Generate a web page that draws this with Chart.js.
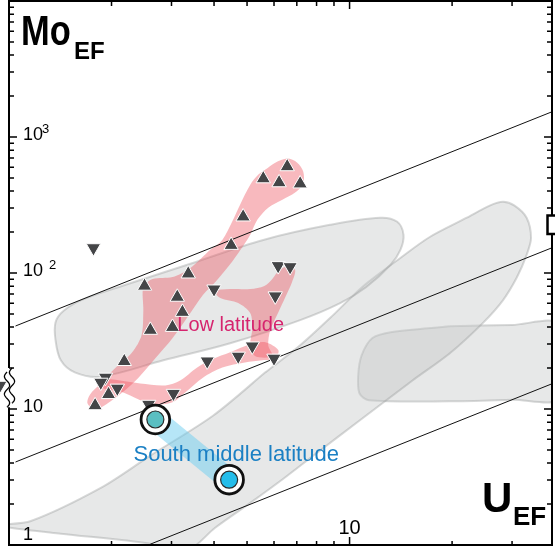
<!DOCTYPE html>
<html><head><meta charset="utf-8">
<script src="https://cdn.jsdelivr.net/npm/chart.js@4.4.1/dist/chart.umd.min.js"></script>
<style>html,body{margin:0;padding:0;background:#fff;overflow:hidden}canvas{display:block}</style>
</head><body>
<canvas id="c" width="555" height="549" style="width:555px;height:549px"></canvas>
<script>
// ---------- data (U_EF, Mo_EF) ----------
const xMin = 1, xMax = 39.3, yMin = 1, yMax = 10000;

const upTriU  = [6.56, 5.58, 6.21, 7.16, 4.87, 4.49, 3.36, 2.50, 3.12, 3.23, 2.60, 3.02, 2.18, 1.96, 1.79];
const upTriMo = [606, 494, 462, 453, 259, 160, 98.6, 80.2, 66.5, 51.5, 38.0, 39.9, 22.4, 12.8, 10.6];

const downTriU  = [1.77, 4.00, 6.17, 6.69, 6.05, 5.18, 4.71, 3.82, 6.00, 1.92, 1.86, 2.08, 3.04, 2.57, 0.94];
const downTriMo = [153, 76.1, 113, 111, 67.7, 29.0, 24.4, 22.5, 23.6, 17.1, 15.7, 14.2, 13.0, 10.8, 14.9];

const southU  = [2.69, 4.43];
const southMo = [8.37, 3.02];

// Mo/U ratio reference lines
const ratioValues = [39, 3.9, 0.39];
const ratioStartU = [1.045, 1.045, 2.6];

// grey reference fields
const fieldA = [[2.27,84],[3.41,117],[5.58,175],[8.76,226],[12.3,255],[13.8,238],[14.4,191],[14.1,148],[13.2,115],[11.2,79],[9.38,60],[7.16,45],[4.46,30.4],[2.84,22.8],[1.86,17.3],[1.56,18.6],[1.42,22.8],[1.37,32],[1.37,43.5],[1.45,53],[1.65,64],[2.27,84]];
const fieldB = [[5.66,18.6],[7.16,29.4],[8.95,49],[10.9,79],[14.1,129],[17.2,184],[22.1,255],[25.8,313],[28.2,334],[30.5,313],[33.1,255],[34.1,181],[33.1,136],[31.0,93],[28.2,63],[24.6,42.8],[19.7,25.7],[15.3,16.2],[10.7,8.23],[8.03,4.77],[6.39,3.07],[5.11,2.04],[4.03,1.34],[3.34,0.91],[2.60,0.94],[2.60,1.02],[1.42,1.21],[1.01,1.34],[0.94,1.40],[1.16,1.50],[1.86,2.63],[2.60,4.54],[3.98,8.96],[5.66,18.6]];
const fieldC = [[19.7,40.6],[30,41.5],[41.4,42],[41.4,12.0],[30,11.7],[19.7,11.4],[11.4,11.6],[10.7,13.0],[10.6,17.6],[10.85,24.8],[11.65,33.1],[13.2,36.7],[19.7,40.6]];

// low-latitude trend envelopes
const lowBandMain = [[4.52,121],[4.06,87.3],[3.71,68.8],[3.36,48.2],[3.02,33.1],[2.69,23.6],[2.40,17.0],[2.15,13.2],[1.95,11.0],[1.79,9.92],[1.70,11.0],[1.73,12.8],[1.86,15.4],[2.03,19.5],[2.30,26.1],[2.45,34.8],[2.48,53.3],[2.48,78.8],[2.64,90.3],[3.02,93.4],[3.41,109],[3.90,148],[4.23,175],[4.52,238],[4.77,318],[5.11,446],[5.40,529],[5.66,576],[6.05,648],[6.56,694],[7.02,648],[7.31,557],[7.31,454],[6.92,390],[6.35,346],[5.77,302],[5.36,246],[5.11,191],[4.87,158],[4.52,121]];
const lowBandMid = [[3.95,74.9],[4.46,76.2],[5.11,76.2],[5.62,80.2],[5.93,90.3],[6.22,105],[6.60,112],[6.92,105],[6.78,85.8],[6.48,66.5],[6.18,51.5],[5.85,38],[5.77,29.4],[5.93,24.4],[5.29,24.4],[5.11,29.4],[5.18,39.3],[5.11,50.6],[4.71,60.1],[4.17,65.4],[3.95,74.9]];
const lowBandLow = [[1.86,16.8],[2.12,16.2],[2.43,15.4],[2.88,14.9],[3.18,16.2],[3.57,20.2],[3.95,23.2],[4.46,26.1],[5.11,29.9],[5.66,30.9],[6.18,27],[6.05,23.6],[5.54,22.8],[4.93,22.0],[4.23,20.2],[3.71,17.0],[3.29,13.2],[3.02,11.2],[2.69,10.8],[2.43,11.6],[2.12,13.5],[1.89,14.2],[1.86,16.8]];

// text anchors (data coordinates)
const lowLabel   = {text:'Low latitude', u:3.12, mo:37.4};
const southLabel = {text:'South middle latitude', u:2.32, mo:4.17};

const yTickLabels = [{v:1000, t:'10', sup:'3', supDx:19, supDy:-7}, {v:100, t:'10', sup:'2', supDx:26, supDy:-7}, {v:10, t:'10'}, {v:1, t:'1'}];
const xTickLabels = [{v:10, t:'10'}];
const xTickValues = [2,3,4,5,6,7,8,9,10,20,30];

// ---------- build ----------
const FONT = '"Liberation Sans", Arial, Helvetica, sans-serif';
const P = (us, ms) => us.map((u,i)=>({x:u, y:ms[i]}));
const S = arr => arr.map(([u,m])=>({x:u, y:m}));

const greyFill = 'rgba(198,200,200,0.42)', greyLine = 'rgba(150,152,152,0.38)';
const redFill = 'rgba(238,80,92,0.40)';
const shape = (data, fill, line, order, tension) => ({
  data: S(data), showLine: true, fill: 'shape', backgroundColor: fill,
  borderColor: line || 'rgba(0,0,0,0)', borderWidth: line ? 2 : 0,
  pointRadius: 0, tension: tension, order: order
});

const datasets = [
  shape(fieldA, greyFill, greyLine, 9, 0.35),
  shape(fieldB, greyFill, greyLine, 9, 0.3),
  shape(fieldC, greyFill, greyLine, 9, 0.3),
  shape(lowBandMain, redFill, null, 7, 0.3),
  shape(lowBandMid, redFill, null, 7, 0.3),
  shape(lowBandLow, redFill, null, 7, 0.3),
  { data: P(southU, southMo), showLine: true, borderColor: 'rgba(110,205,240,0.5)', borderWidth: 22,
    borderCapStyle: 'butt', pointRadius: 0, order: 6 },
  ...ratioValues.map((r,i)=>({ data: [{x:ratioStartU[i], y:ratioStartU[i]*r},{x:xMax, y:xMax*r}],
    showLine: true, borderColor: '#111', borderWidth: 1, pointRadius: 0, order: 5 })),
  { data: P(upTriU, upTriMo), pointStyle: 'triangle', pointRadius: 8.3, backgroundColor: '#444547',
    borderColor: '#ffffff', borderWidth: 1, order: 3 },
  { data: P(downTriU, downTriMo), pointStyle: 'triangle', rotation: 180, pointRadius: 8.3, backgroundColor: '#444547',
    borderColor: '#ffffff', borderWidth: 1, order: 3, clip: false },
  { data: P(southU, southMo), pointStyle: 'circle', pointRadius: 14.3, backgroundColor: '#ffffff',
    borderColor: '#111', borderWidth: 2.8, order: 2 },
  { data: P(southU, southMo), pointStyle: 'circle', pointRadius: 8.5, backgroundColor: ['#5bbfc2','#25bdea'],
    borderColor: '#2a2a2a', borderWidth: 1.2, order: 1 }
];

const decor = {
  id: 'decor',
  afterDatasetsDraw(chart) {
    const {ctx, scales:{x, y}} = chart;
    ctx.save();
    ctx.textBaseline = 'alphabetic'; ctx.textAlign = 'left';
    ctx.font = '20px ' + FONT; ctx.fillStyle = '#d6246e';
    ctx.fillText(lowLabel.text, x.getPixelForValue(lowLabel.u), y.getPixelForValue(lowLabel.mo));
    ctx.font = '22px ' + FONT; ctx.fillStyle = '#1b80c4';
    ctx.fillText(southLabel.text, x.getPixelForValue(southLabel.u), y.getPixelForValue(southLabel.mo));
    ctx.restore();
  },
  afterDraw(chart) {
    const {ctx, chartArea:a, scales:{x, y}} = chart;
    ctx.save();
    ctx.strokeStyle = '#000'; ctx.fillStyle = '#000';
    const brkTop = y.getPixelForValue(20), brkBot = y.getPixelForValue(10.3);
    // frame
    ctx.lineWidth = 2;
    ctx.beginPath();
    ctx.moveTo(a.left, brkTop); ctx.lineTo(a.left, a.top); ctx.lineTo(a.right, a.top);
    ctx.lineTo(a.right, a.bottom); ctx.lineTo(a.left, a.bottom); ctx.lineTo(a.left, brkBot);
    ctx.stroke();
    // ticks
    ctx.lineWidth = 1.5;
    ctx.beginPath();
    for (let k = 0; k <= 3; k++) for (let m = 1; m <= 9; m++) {
      const v = m * Math.pow(10, k); if (v === 1) continue;
      const py = y.getPixelForValue(v), len = m === 1 ? 8 : 5;
      ctx.moveTo(a.left, py); ctx.lineTo(a.left + len, py);
      ctx.moveTo(a.right, py); ctx.lineTo(a.right - len, py);
    }
    xTickValues.forEach(v => {
      const px = x.getPixelForValue(v), major = v === 10;
      ctx.moveTo(px, a.bottom); ctx.lineTo(px, a.bottom - (major ? 8 : 4));
      ctx.moveTo(px, a.top); ctx.lineTo(px, a.top + (major ? 8 : 5));
    });
    ctx.stroke();
    // axis break on left axis
    ctx.lineWidth = 1.3;
    const wave = (x0, y0, y1, amp) => {
      ctx.beginPath();
      for (let i = 0; i <= 40; i++) {
        const t = i / 40;
        const px = x0 + amp * Math.sin(t * Math.PI * 4), py = y0 + t * (y1 - y0);
        i ? ctx.lineTo(px, py) : ctx.moveTo(px, py);
      }
      ctx.stroke();
    };
    wave(a.left + 3, brkTop, brkBot - 4, -2.6);
    wave(a.left - 2, brkTop + 4, brkBot, -2.6);
    // clipped marker box on right edge
    ctx.fillStyle = '#fff';
    ctx.fillRect(547, 215, 10, 19);
    ctx.lineWidth = 2.5; ctx.strokeRect(547.5, 215.5, 12, 18.5);
    // tick labels
    ctx.fillStyle = '#000'; ctx.textBaseline = 'alphabetic';
    yTickLabels.forEach(l => {
      let py = y.getPixelForValue(l.v) + 3;
      if (py > a.bottom - 4) py = a.bottom - 5;
      ctx.font = '18px ' + FONT; ctx.textAlign = 'left';
      ctx.fillText(l.t, 23, py);
      if (l.sup) { ctx.font = '13px ' + FONT; ctx.fillText(l.sup, 23 + l.supDx, py + l.supDy); }
    });
    xTickLabels.forEach(l => {
      ctx.font = '20px ' + FONT; ctx.textAlign = 'center';
      ctx.fillText(l.t, x.getPixelForValue(l.v), a.bottom - 11);
    });
    // axis titles
    ctx.textAlign = 'left';
    ctx.save(); ctx.translate(21, 45); ctx.scale(0.82, 1);
    ctx.font = 'bold 42px ' + FONT; ctx.fillText('Mo', 0, 0); ctx.restore();
    ctx.font = 'bold 24px ' + FONT; ctx.fillText('EF', 74, 59);
    ctx.font = 'bold 42px ' + FONT; ctx.fillText('U', 482, 512);
    ctx.font = 'bold 26px ' + FONT; ctx.fillText('EF', 513, 525);
    ctx.restore();
  }
};

Chart.defaults.font.family = FONT;
new Chart(document.getElementById('c'), {
  type: 'scatter',
  data: { datasets },
  options: {
    responsive: false, animation: false, events: [],
    layout: { autoPadding: false, padding: { left: 9, right: 3, top: 1, bottom: 4 } },
    scales: {
      x: { type: 'logarithmic', min: xMin, max: xMax, display: false },
      y: { type: 'logarithmic', min: yMin, max: yMax, display: false }
    },
    plugins: { legend: { display: false }, tooltip: { enabled: false } }
  },
  plugins: [decor]
});
</script>
</body></html>
